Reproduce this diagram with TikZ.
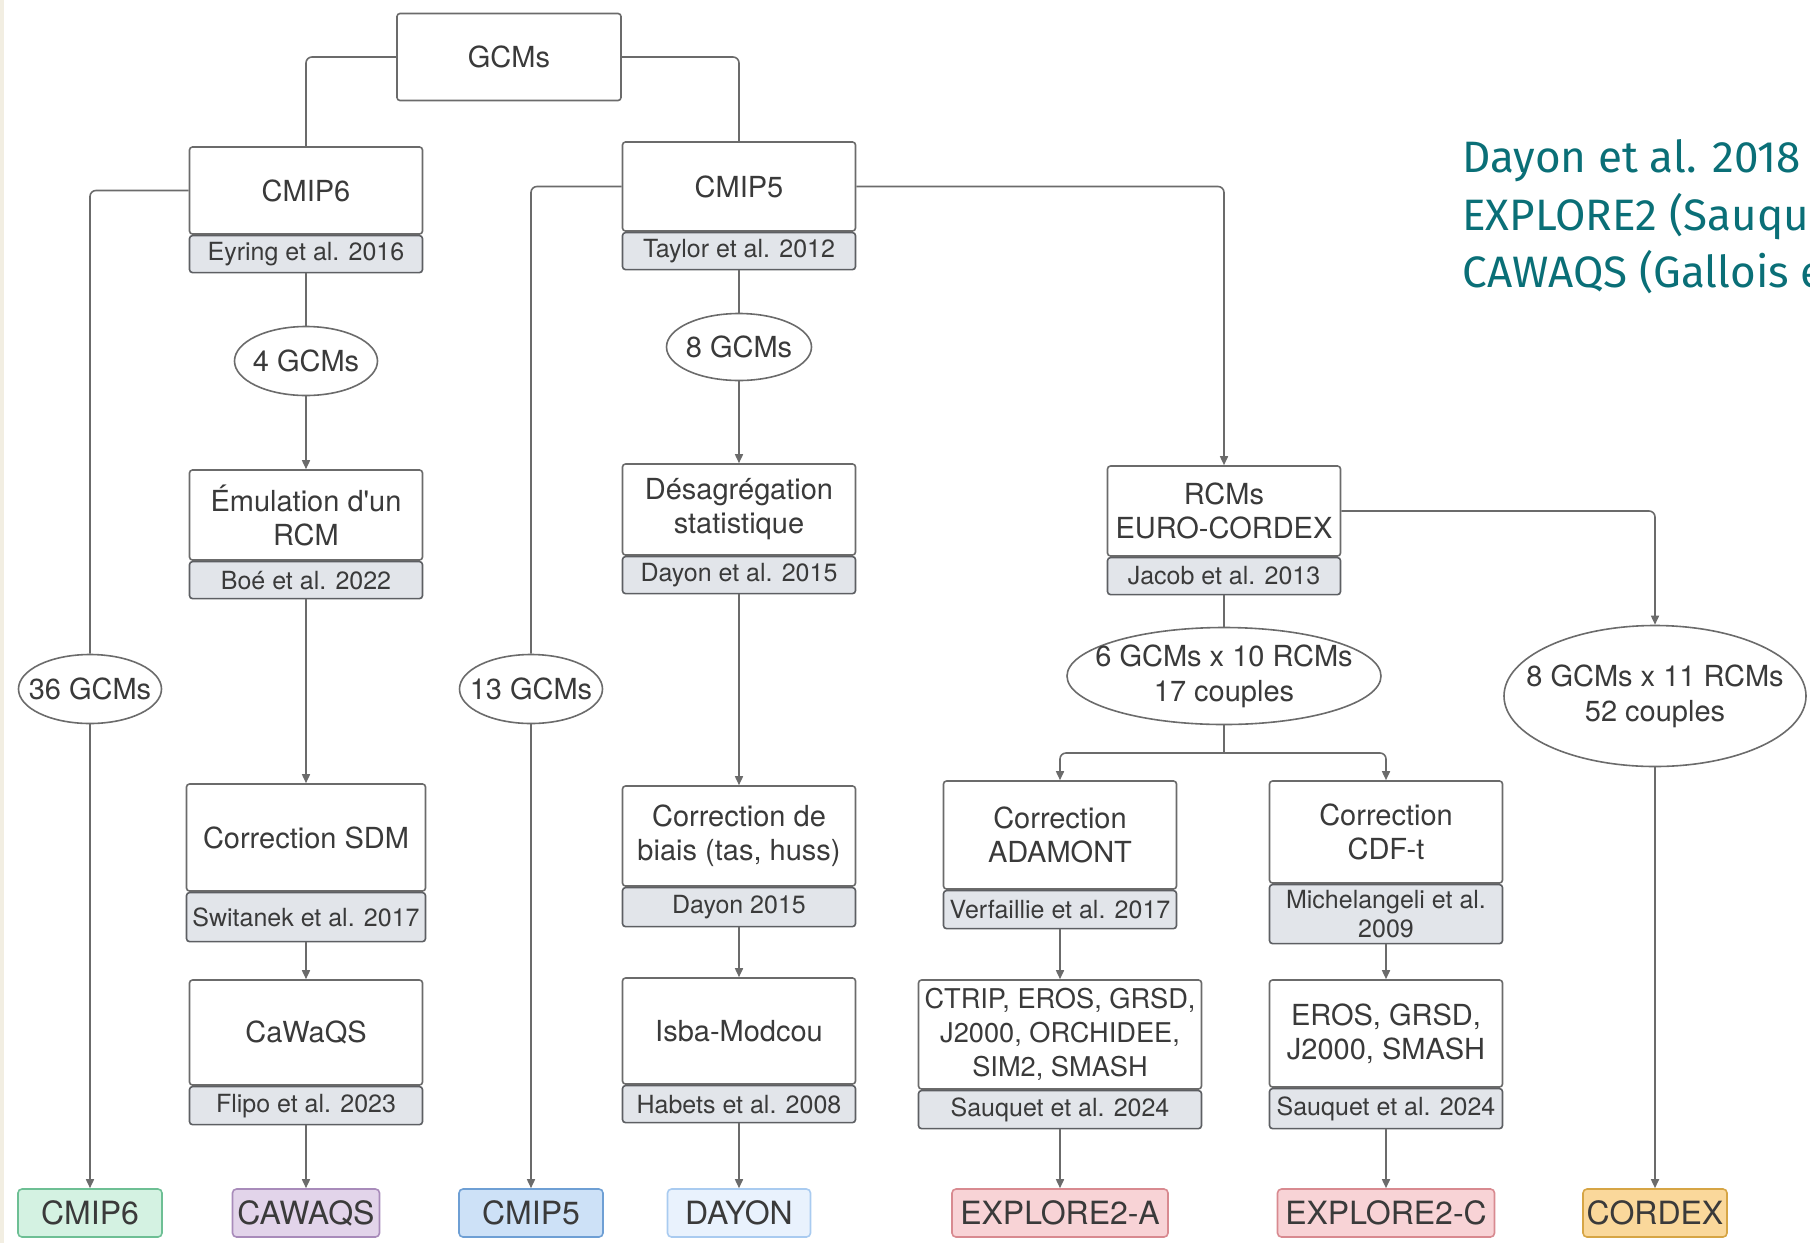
\documentclass[tikz,border=0pt]{standalone}
\usepackage{fontspec}
\usetikzlibrary{positioning,shapes.geometric,arrows.meta}
\newfontfamily\boxfont{TeX Gyre Heros}
\newfontfamily\notefont{Fira Sans}
\definecolor{linegray}{HTML}{6B6B6B}
\definecolor{txtgray}{HTML}{3A3A3A}
\definecolor{stripfill}{HTML}{E2E5EA}
\definecolor{stripline}{HTML}{5D5F63}
\definecolor{noteteal}{HTML}{0A6F77}
\definecolor{edgebeige}{HTML}{F2EEE2}
\definecolor{greenfill}{HTML}{D4F2E2}
\definecolor{greenline}{HTML}{6DBF94}
\definecolor{purplefill}{HTML}{E2D4EA}
\definecolor{purpleline}{HTML}{A88BBA}
\definecolor{bluefill}{HTML}{CDE1F7}
\definecolor{blueline}{HTML}{6E9FD4}
\definecolor{palefill}{HTML}{E9F2FD}
\definecolor{paleline}{HTML}{A9CBF0}
\definecolor{pinkfill}{HTML}{F8D3D6}
\definecolor{pinkline}{HTML}{D88A90}
\definecolor{orangefill}{HTML}{FAD89B}
\definecolor{orangeline}{HTML}{D6A545}

\tikzset{
    mainbox/.style={draw=linegray, fill=white, rounded corners=1.5pt, line width=0.8pt,
        minimum width=116.5pt, inner sep=0pt, align=center, text=txtgray,
        font=\boxfont\fontsize{14.5}{17}\selectfont},
    refbox/.style={draw=stripline, fill=stripfill, rounded corners=1.5pt, line width=0.8pt,
        minimum width=116.5pt, minimum height=18.5pt, inner sep=0pt, align=center, text=txtgray,
        font=\boxfont\fontsize{12.5}{14.5}\selectfont},
    countell/.style={ellipse, draw=linegray, fill=white, line width=0.8pt,
        inner xsep=-12pt, inner ysep=0pt,
        minimum width=71.5pt, minimum height=34.5pt, align=center, text=txtgray,
        font=\boxfont\fontsize{14.5}{17.5}\selectfont},
    outbox/.style={rounded corners=2pt, line width=0.8pt, minimum height=24pt, inner sep=0pt,
        text=txtgray, font=\boxfont\fontsize{16}{18}\selectfont},
    note/.style={anchor=base west, inner sep=0pt, text=noteteal,
        font=\notefont\fontsize{22}{28}\selectfont},
    link/.style={draw=linegray, line width=0.8pt, rounded corners=3pt},
    flow/.style={link, -{Triangle[length=4.5pt,width=4pt]}}
}

\begin{document}
\begin{tikzpicture}[x=0.5pt,y=-0.5pt]
    \useasboundingbox (0,0) rectangle (1810,1243);
    \fill[edgebeige] (0,0) rectangle (4,1243);

    \node[mainbox, minimum width=112pt, minimum height=43.5pt] (gcm) at (509,57) {GCMs};

    \node[mainbox, minimum height=43.5pt] (cmip6) at (306,190.5) {CMIP6};
    \node[refbox, below=0pt of cmip6] (cmip6ref) {Eyring et al. 2016};
    \node[countell] (ell4) at (306,361) {4 GCMs};
    \node[mainbox, minimum height=45pt] (emul) at (306,515) {Émulation d'un\\RCM};
    \node[refbox, below=0pt of emul] (emulref) {Boé et al. 2022};
    \node[mainbox, minimum width=119.5pt, minimum height=53.5pt] (sdm) at (306,837.5) {Correction SDM};
    \node[refbox, minimum width=119.5pt, minimum height=24.5pt, below=0pt of sdm] (sdmref) {Switanek et al. 2017};
    \node[mainbox, minimum height=52.5pt] (cawaqs) at (306,1032.5) {CaWaQS};
    \node[refbox, minimum height=19pt, below=0pt of cawaqs] (cawaqsref) {Flipo et al. 2023};

    \node[mainbox, minimum height=44.5pt] (cmip5) at (739,186.5) {CMIP5};
    \node[refbox, below=0pt of cmip5] (cmip5ref) {Taylor et al. 2012};
    \node[countell, minimum width=72.5pt, minimum height=33.5pt] (ell8) at (739,347) {8 GCMs};
    \node[mainbox, minimum height=45.5pt] (desag) at (739,509.5) {Désagrégation\\statistique};
    \node[refbox, below=0pt of desag] (desagref) {Dayon et al. 2015};
    \node[mainbox, minimum height=50pt] (biais) at (739,836) {Correction de\\biais (tas, huss)};
    \node[refbox, minimum height=19.5pt, below=0pt of biais] (biaisref) {Dayon 2015};
    \node[mainbox, minimum height=53pt] (isba) at (739,1031) {Isba-Modcou};
    \node[refbox, below=0pt of isba] (isbaref) {Habets et al. 2008};

    \node[countell] (ell36) at (90,689) {36 GCMs};
    \node[countell] (ell13) at (531,689) {13 GCMs};

    \node[mainbox, minimum height=45pt] (rcm) at (1224,511) {RCMs\\EURO-CORDEX};
    \node[refbox, below=0pt of rcm] (rcmref) {Jacob et al. 2013};
    \node[countell, minimum width=157pt, minimum height=48.5pt] (ell610) at (1224,676) {6 GCMs x 10 RCMs\\17 couples};
    \node[countell, minimum width=151pt, minimum height=70.5pt] (ell811) at (1655,696) {8 GCMs x 11 RCMs\\52 couples};
    \coordinate (split) at (1224,753);

    \node[mainbox, minimum height=54pt] (adamont) at (1060,835) {Correction\\ADAMONT};
    \node[refbox, minimum height=19pt, below=0pt of adamont] (adamontref) {Verfaillie et al. 2017};
    \node[mainbox, minimum width=141.5pt, minimum height=54.5pt, font=\boxfont\fontsize{13.6}{17}\selectfont] (ctrip) at (1060,1034.5) {CTRIP, EROS, GRSD,\\J2000, ORCHIDEE,\\SIM2, SMASH};
    \node[refbox, minimum width=141.5pt, minimum height=19pt, below=0pt of ctrip] (ctripref) {Sauquet et al. 2024};

    \node[mainbox, minimum height=51pt] (cdft) at (1386,832) {Correction\\CDF-t};
    \node[refbox, minimum height=29.5pt, below=0pt of cdft] (cdftref) {Michelangeli et al.\\2009};
    \node[mainbox, minimum height=53.5pt] (eros) at (1386,1033.5) {EROS, GRSD,\\J2000, SMASH};
    \node[refbox, minimum height=20pt, below=0pt of eros] (erosref) {Sauquet et al. 2024};

    \node[outbox, fill=greenfill, draw=greenline, minimum width=72pt] (outcmip6) at (90,1213) {CMIP6};
    \node[outbox, fill=purplefill, draw=purpleline, minimum width=73.5pt] (outcawaqs) at (306,1213) {CAWAQS};
    \node[outbox, fill=bluefill, draw=blueline, minimum width=72pt] (outcmip5) at (531,1213) {CMIP5};
    \node[outbox, fill=palefill, draw=paleline, minimum width=71.5pt] (outdayon) at (739,1213) {DAYON};
    \node[outbox, fill=pinkfill, draw=pinkline, minimum width=108pt] (outexa) at (1060,1213) {EXPLORE2-A};
    \node[outbox, fill=pinkfill, draw=pinkline, minimum width=108.5pt] (outexc) at (1386,1213) {EXPLORE2-C};
    \node[outbox, fill=orangefill, draw=orangeline, minimum width=72pt] (outcordex) at (1655,1213) {CORDEX};

    \node[note] (note1) at (1462,172) {Dayon et al. 2018};
    \node[note] (note2) at (1462,230) {EXPLORE2 (Sauque};
    \node[note] (note3) at (1462,287) {CAWAQS (Gallois e};

    \draw[link] (gcm.west) -| (cmip6.north);
    \draw[link] (gcm.east) -| (cmip5.north);

    \draw[link] (cmip6.west) -| (ell36.north);
    \draw[flow] (ell36.south) -- (outcmip6.north);
    \draw[link] (cmip6ref.south) -- (ell4.north);
    \draw[flow] (ell4.south) -- (emul.north);
    \draw[flow] (emulref.south) -- (sdm.north);
    \draw[flow] (sdmref.south) -- (cawaqs.north);
    \draw[flow] (cawaqsref.south) -- (outcawaqs.north);

    \draw[link] (cmip5.west) -| (ell13.north);
    \draw[flow] (ell13.south) -- (outcmip5.north);
    \draw[link] (cmip5ref.south) -- (ell8.north);
    \draw[flow] (ell8.south) -- (desag.north);
    \draw[flow] (desagref.south) -- (biais.north);
    \draw[flow] (biaisref.south) -- (isba.north);
    \draw[flow] (isbaref.south) -- (outdayon.north);

    \draw[flow] (cmip5.east) -| (rcm.north);
    \draw[link] (rcmref.south) -- (ell610.north);
    \draw[link] (ell610.south) -- (split);
    \draw[flow] (split) -| (adamont.north);
    \draw[flow] (split) -| (cdft.north);
    \draw[flow] (adamontref.south) -- (ctrip.north);
    \draw[flow] (ctripref.south) -- (outexa.north);
    \draw[flow] (cdftref.south) -- (eros.north);
    \draw[flow] (erosref.south) -- (outexc.north);

    \draw[flow] (rcm.east) -| (ell811.north);
    \draw[flow] (ell811.south) -- (outcordex.north);
\end{tikzpicture}
\end{document}
